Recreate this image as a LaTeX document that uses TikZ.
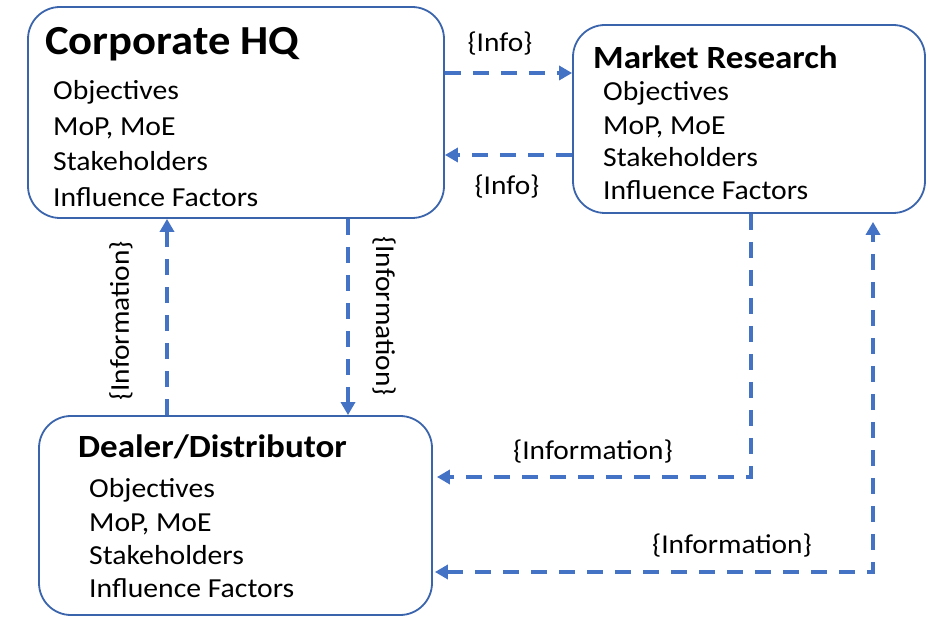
\documentclass[tikz,border=0pt]{standalone}
\usepackage{fontspec}
\setmainfont{Carlito}[FakeStretch=1.08]
\usetikzlibrary{arrows.meta,calc}
\definecolor{boxblue}{HTML}{3A64AC}
\definecolor{linkblue}{HTML}{4472C4}
\tikzset{
  box/.style={draw=boxblue, line width=1.8pt, rounded corners=32pt, inner sep=0pt, fill=white},
  conn/.style={draw=linkblue, line width=3.6pt, dash pattern=on 16pt off 12pt, -{Triangle[length=13pt,width=14pt]}},
  ttl/.style={anchor=base west, inner sep=0pt, font=\bfseries\fontsize{32.4}{36}\selectfont},
  itm/.style={anchor=base west, inner sep=0pt, font=\fontsize{27.5}{30}\selectfont},
  lbl/.style={inner sep=0pt, font=\fontsize{27.2}{30}\selectfont},
}
\begin{document}
\begin{tikzpicture}[x=1pt,y=-1pt]
\useasboundingbox (0,0) rectangle (927,617);
% boxes
\node[box, minimum width=416pt, minimum height=211pt] (hq) at (236,112.5) {};
\node[box, minimum width=352pt, minimum height=188pt] (mr) at (749,119) {};
\node[box, minimum width=393pt, minimum height=199pt] (dl) at (235.5,515.5) {};
% HQ text
\node[ttl, font=\bfseries\fontsize{41.3}{46}\selectfont] (hqt) at (45,55) {Corporate HQ};
\node[itm] (hq1) at (53,100) {Objectives};
\node[itm] (hq2) at (53,136) {MoP, MoE};
\node[itm] (hq3) at (53,171) {Stakeholders};
\node[itm] (hq4) at (53,207) {Influence Factors};
% MR text
\node[ttl] (mrt) at (593,69) {Market Research};
\node[itm] (mr1) at (603,101) {Objectives};
\node[itm] (mr2) at (603,135) {MoP, MoE};
\node[itm] (mr3) at (603,167) {Stakeholders};
\node[itm] (mr4) at (603,200) {Influence Factors};
% Dealer text
\node[ttl] (dlt) at (78,458) {Dealer/Distributor};
\node[itm] (dl1) at (89,498) {Objectives};
\node[itm] (dl2) at (89,532) {MoP, MoE};
\node[itm] (dl3) at (89,564) {Stakeholders};
\node[itm] (dl4) at (89,597) {Influence Factors};
% connectors
\draw[conn] (hq.east |- 0,73) -- (mr.west |- 0,73);
\draw[conn] (mr.west |- 0,155) -- (hq.east |- 0,155);
\draw[conn] (dl.north -| 167,0) -- (hq.south -| 167,0);
\draw[conn] (hq.south -| 348,0) -- (dl.north -| 348,0);
\draw[conn, shorten >=4pt] (mr.south -| 751,0) |- (dl.east |- 0,477);
\draw[conn, {Triangle[length=13pt,width=14pt]}-{Triangle[length=13pt,width=14pt]}, shorten >=8pt, shorten <=2pt] (dl.east |- 0,572) -| (mr.south -| 873,0);
% labels
\node[lbl, anchor=base] (l1) at (500,52) {\{Info\}};
\node[lbl, anchor=base] (l2) at (507,195) {\{Info\}};
\node[lbl, rotate=90] (l3) at (121,321) {\{Information\}};
\node[lbl, rotate=-90] (l4) at (384,316) {\{Information\}};
\node[lbl, anchor=base] (l5) at (593,460) {\{Information\}};
\node[lbl, anchor=base] (l6) at (732,553) {\{Information\}};
\end{tikzpicture}
\end{document}
